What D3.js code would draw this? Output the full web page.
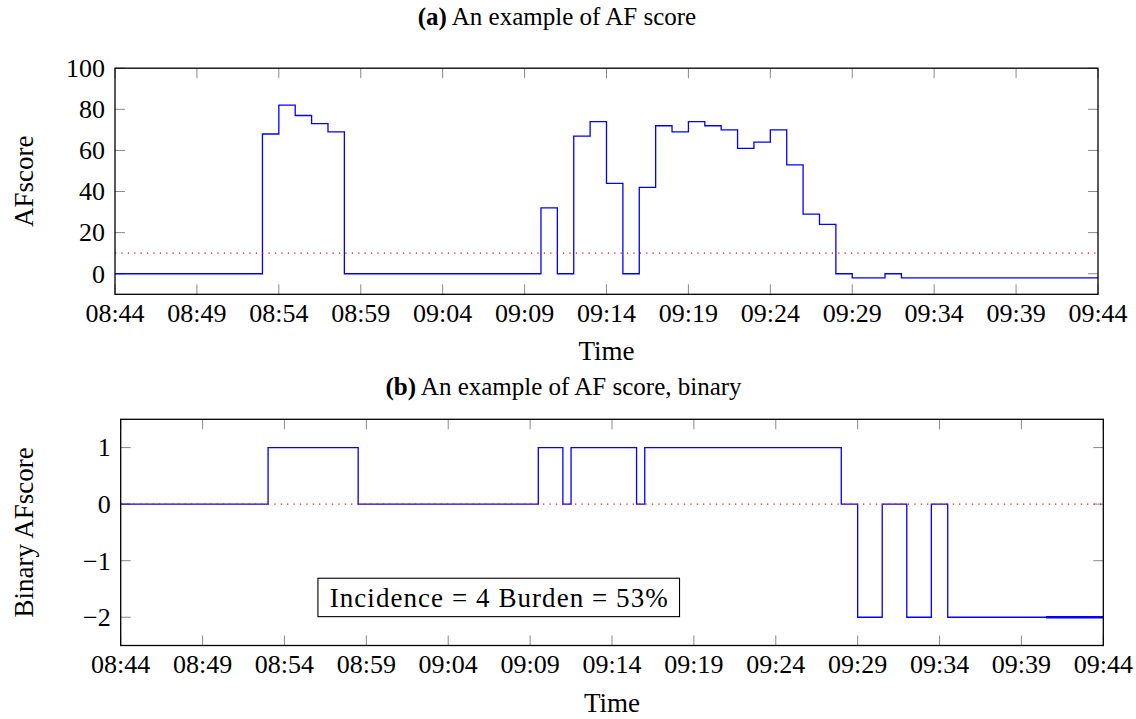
<!DOCTYPE html>
<html>
<head>
<meta charset="utf-8">
<script src="https://cdn.jsdelivr.net/npm/d3@7/dist/d3.min.js"></script>
</head>
<body style="margin:0">
<svg id="chart" width="1136" height="719" font-family="Liberation Serif, Times New Roman, serif"></svg>
<script>
// ---- data ----
// (a) AF score, one sample per minute starting 08:44
var afStart = "08:44:00";
var afScore = [0, 0, 0, 0, 0, 0, 0, 0, 0, 68, 82, 77, 73, 69,
  0, 0, 0, 0, 0, 0, 0, 0, 0, 0, 0, 0,
  32, 0, 67, 74, 44, 0, 42, 72, 69, 74, 72, 70, 61, 64, 70, 53, 29, 24,
  0, -2, -2, 0, -2, -2, -2, -2, -2, -2, -2, -2, -2, -2, -2, -2, -2];
var afThreshold = 10;

// (b) binary AF score, times where the value changes
var binTimes = ["08:44:00", "08:53:00", "08:58:30", "09:09:30", "09:11:00", "09:11:30",
  "09:15:30", "09:16:00", "09:28:00", "09:29:00", "09:30:30", "09:32:00",
  "09:33:30", "09:34:30", "09:44:00"];
var binValues = [0, 1, 0, 1, 0, 1, 0, 1, 0, -2, 0, -2, 0, -2, -2];
var binTailTimes = ["09:40:30", "09:44:00"];   // overdrawn stretch at the end
var binTailValue = -2;
var binThreshold = 0;

var xTickLabels = ["08:44", "08:49", "08:54", "08:59", "09:04", "09:09", "09:14",
  "09:19", "09:24", "09:29", "09:34", "09:39", "09:44"];
var afTicks = [0, 20, 40, 60, 80, 100];
var binTicks = [-2, -1, 0, 1];

var titleA = "An example of AF score";
var titleB = "An example of AF score, binary";
var boxText = "Incidence = 4 Burden = 53%";

// ---- helpers ----
var parse = d3.timeParse("%H:%M:%S");
var parseHM = d3.timeParse("%H:%M");
var fmt = d3.timeFormat("%H:%M");
var t0 = parse(afStart);
var FONT = "Liberation Serif, Times New Roman, serif";

var afData = afScore.map(function(v, i) {
  return {t: d3.timeMinute.offset(t0, i), v: v};
});
var binData = binTimes.map(function(s, i) {
  return {t: parse(s), v: binValues[i]};
});
var tailData = binTailTimes.map(function(s) { return {t: parse(s), v: binTailValue}; });
var xTicks = xTickLabels.map(function(s) { return parseHM(s); });

var svg = d3.select("#chart");

function panel(o) {
  var x = d3.scaleTime()
    .domain([parseHM(xTickLabels[0]), parseHM(xTickLabels[xTickLabels.length - 1])])
    .range([o.left, o.right]);
  var y = d3.scaleLinear().domain(o.yDomain).range([o.bottom, o.top]);
  var g = svg.append("g");

  // ticks (inside, all four sides)
  var tickLen = 10;
  var tk = g.append("g").attr("stroke", "#8a8a8a").attr("stroke-width", 1);
  xTicks.forEach(function(d) {
    tk.append("line").attr("x1", x(d)).attr("x2", x(d)).attr("y1", o.bottom).attr("y2", o.bottom - tickLen);
    tk.append("line").attr("x1", x(d)).attr("x2", x(d)).attr("y1", o.top).attr("y2", o.top + tickLen);
  });
  o.yTicks.forEach(function(d) {
    tk.append("line").attr("x1", o.left).attr("x2", o.left + tickLen).attr("y1", y(d)).attr("y2", y(d));
    tk.append("line").attr("x1", o.right).attr("x2", o.right - tickLen).attr("y1", y(d)).attr("y2", y(d));
  });

  var line = d3.line().x(function(d) { return x(d.t); }).y(function(d) { return y(d.v); })
    .curve(d3.curveStepAfter);

  g.append("path").datum(o.data).attr("d", line)
    .attr("fill", "none").attr("stroke", "#0000ff").attr("stroke-width", 1.3);
  if (o.extra) {
    g.append("path").datum(o.extra).attr("d", line)
      .attr("fill", "none").attr("stroke", "#0000ff").attr("stroke-width", 2.4);
  }

  // threshold, dotted red
  g.append("line")
    .attr("x1", o.left).attr("x2", o.right)
    .attr("y1", y(o.threshold)).attr("y2", y(o.threshold))
    .attr("stroke", "#ff0000").attr("stroke-width", 1.2)
    .attr("stroke-dasharray", "1.2 5.2");

  // frame
  g.append("rect")
    .attr("x", o.left).attr("y", o.top)
    .attr("width", o.right - o.left).attr("height", o.bottom - o.top)
    .attr("fill", "none").attr("stroke", "#000").attr("stroke-width", 1.3);

  // tick labels
  g.selectAll(".xl").data(xTicks).enter().append("text")
    .attr("x", function(d) { return x(d); })
    .attr("y", o.bottom + 27.5)
    .attr("text-anchor", "middle")
    .attr("font-family", FONT)
    .attr("font-size", 26)
    .text(function(d) { return fmt(d); });

  g.selectAll(".yl").data(o.yTicks).enter().append("text")
    .attr("x", o.left - 10)
    .attr("y", function(d) { return y(d); })
    .attr("dy", "0.34em")
    .attr("text-anchor", "end")
    .attr("font-family", FONT)
    .attr("font-size", 26)
    .text(function(d) { return d < 0 ? "\u2212" + Math.abs(d) : d; });

  // axis titles
  g.append("text")
    .attr("x", (o.left + o.right) / 2)
    .attr("y", o.bottom + 66)
    .attr("text-anchor", "middle")
    .attr("font-family", FONT)
    .attr("font-size", 27)
    .text("Time");
  g.append("text")
    .attr("transform", "translate(33," + ((o.top + o.bottom) / 2) + ") rotate(-90)")
    .attr("text-anchor", "middle")
    .attr("font-family", FONT)
    .attr("font-size", 27)
    .text(o.yLabel);

  // caption above the panel
  var cap = g.append("text")
    .attr("x", o.capX).attr("y", o.capY)
    .attr("text-anchor", "middle")
    .attr("font-family", FONT)
    .attr("font-size", 25);
  cap.append("tspan").attr("font-weight", "bold").text(o.capTag);
  cap.append("tspan").text(" " + o.caption);

  return {g: g, x: x, y: y};
}

panel({
  left: 115, right: 1098, top: 68.2, bottom: 294.3,
  yDomain: [-10, 100], yTicks: afTicks, data: afData, threshold: afThreshold,
  yLabel: "AFscore", capTag: "(a)", caption: titleA, capX: 557, capY: 25
});

var pb = panel({
  left: 120.7, right: 1103.3, top: 419.3, bottom: 645.5,
  yDomain: [-2.5, 1.5], yTicks: binTicks, data: binData, extra: tailData,
  threshold: binThreshold,
  yLabel: "Binary AFscore", capTag: "(b)", caption: titleB, capX: 563.5, capY: 395
});

// annotation box
var bx = pb.x(parse("09:07:05")), by = pb.y(-1.65);
pb.g.append("rect")
  .attr("x", bx - 180.8).attr("y", by - 19.2)
  .attr("width", 361.6).attr("height", 38.4)
  .attr("fill", "#fff").attr("stroke", "#000").attr("stroke-width", 1.1);
pb.g.append("text")
  .attr("x", bx).attr("y", by)
  .attr("dy", "0.34em")
  .attr("text-anchor", "middle")
  .attr("textLength", 338)
  .attr("lengthAdjust", "spacing")
  .attr("font-family", FONT)
  .attr("font-size", 27)
  .text(boxText);
</script>
</body>
</html>
